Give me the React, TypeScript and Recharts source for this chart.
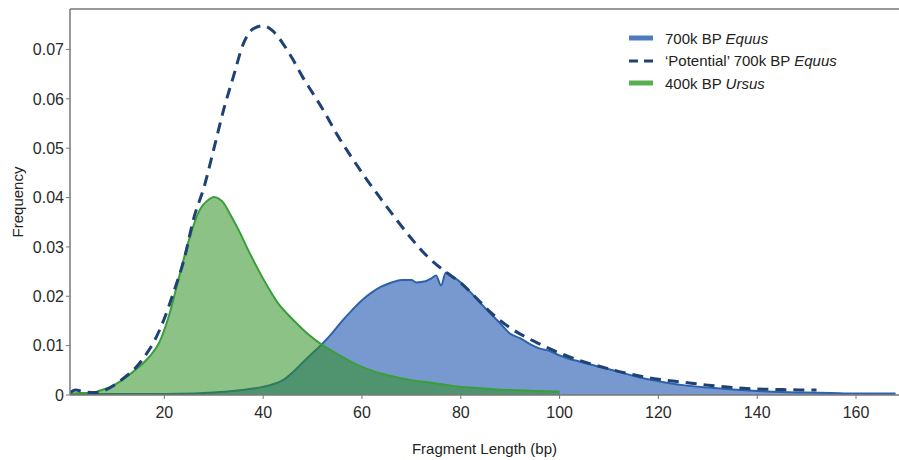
import React from "react"
import {
  ComposedChart,
  Area,
  Line,
  XAxis,
  YAxis,
  ReferenceLine,
  Legend,
} from "recharts"

// 700k BP Equus (observed)
const equusX = [1, 10, 20, 26, 30, 34, 38, 41, 44, 46, 48, 50, 52, 54, 56, 58, 60, 62, 64, 66, 68, 70, 71, 72, 73, 74, 75, 76, 77, 78, 80, 82, 84, 86, 88, 90, 92, 94, 96, 98, 100, 102, 104, 108, 112, 116, 120, 125, 130, 135, 140, 145, 150, 155, 160, 165, 168]
const equusY = [0.0002, 0.0002, 0.0002, 0.0003, 0.0005, 0.0008, 0.0013, 0.0019, 0.003, 0.0046, 0.0066, 0.0085, 0.0104, 0.0126, 0.015, 0.0172, 0.0192, 0.0208, 0.022, 0.0228, 0.0233, 0.0233, 0.0228, 0.0229, 0.0231, 0.0236, 0.0242, 0.0222, 0.0248, 0.0242, 0.0228, 0.0208, 0.0186, 0.0165, 0.0145, 0.0124, 0.0115, 0.0103, 0.0094, 0.0089, 0.008, 0.0073, 0.0068, 0.0057, 0.0047, 0.0036, 0.0028, 0.002, 0.0015, 0.0011, 0.0008, 0.0006, 0.0005, 0.0004, 0.0003, 0.0003, 0.0003]

// 'Potential' 700k BP Equus
const potentialX = [1, 2, 4, 6, 8, 10, 12, 14, 16, 18, 20, 22, 24, 26, 28, 30, 32, 34, 36, 38, 40, 42, 44, 46, 48, 50, 52, 55, 58, 61, 64, 67, 70, 73, 77, 80, 83, 86, 90, 95, 100, 105, 110, 115, 120, 125, 130, 135, 140, 145, 150, 152]
const potentialY = [0.0005, 0.001, 0.0006, 0.0005, 0.001, 0.0021, 0.0036, 0.0053, 0.0078, 0.011, 0.0155, 0.0212, 0.0275, 0.036, 0.042, 0.0498, 0.0578, 0.0646, 0.0712, 0.0742, 0.0748, 0.0737, 0.0712, 0.068, 0.0644, 0.0612, 0.058, 0.0527, 0.048, 0.0436, 0.0395, 0.0355, 0.0317, 0.0283, 0.0249, 0.0227, 0.0198, 0.0168, 0.0136, 0.0108, 0.0085, 0.0067, 0.0053, 0.0041, 0.0032, 0.0026, 0.002, 0.0015, 0.0012, 0.0011, 0.001, 0.001]

// 400k BP Ursus
const ursusX = [1, 3, 5, 7, 9, 11, 13, 15, 17, 19, 21, 23, 25, 27, 29, 30, 31, 32, 33, 35, 37, 39, 41, 43, 45, 47, 49, 52, 55, 58, 61, 64, 67, 70, 74, 78, 82, 86, 90, 95, 100]
const ursusY = [0.0003, 0.0004, 0.0004, 0.0009, 0.0016, 0.0027, 0.0042, 0.0058, 0.0078, 0.0107, 0.0163, 0.024, 0.0315, 0.0372, 0.0396, 0.0401, 0.0398, 0.0389, 0.0372, 0.0335, 0.0293, 0.0254, 0.0218, 0.0186, 0.0163, 0.0143, 0.0124, 0.0101, 0.0083, 0.0066, 0.0053, 0.0043, 0.0036, 0.003, 0.0025, 0.0019, 0.0015, 0.0012, 0.001, 0.0008, 0.0007]

const xTicks = [20, 40, 60, 80, 100, 120, 140, 160]
const yTicks = [0, 0.01, 0.02, 0.03, 0.04, 0.05, 0.06, 0.07]

const legendItems = [
  { label: "700k BP ", italic: "Equus", kind: "equus" },
  { label: "\u2018Potential\u2019 700k BP ", italic: "Equus", kind: "potential" },
  { label: "400k BP ", italic: "Ursus", kind: "ursus" },
]

const Y_MAX = 0.0782
const FONT = "'Liberation Sans', Arial, sans-serif"

type Row = { x: number; equus?: number; potential?: number; ursus?: number }

function buildTable(): Row[] {
  const rows = new Map<number, Row>()
  const put = (xs: number[], ys: number[], key: "equus" | "potential" | "ursus") => {
    xs.forEach((x, i) => {
      const row = rows.get(x) ?? { x }
      row[key] = ys[i]
      rows.set(x, row)
    })
  }
  put(equusX, equusY, "equus")
  put(potentialX, potentialY, "potential")
  put(ursusX, ursusY, "ursus")
  return [...rows.values()].sort((a, b) => a.x - b.x)
}

const data = buildTable()

function Swatch({ kind }: { kind: string }) {
  if (kind === "potential") {
    return (
      <svg width={26} height={8}>
        <line x1={1} y1={4} x2={25} y2={4} stroke="#1f4275" strokeWidth={3} strokeDasharray="9 6" />
      </svg>
    )
  }
  const color = kind === "equus" ? "#4d7dbf" : "#5aae52"
  return (
    <svg width={26} height={8}>
      <line x1={1} y1={4} x2={25} y2={4} stroke={color} strokeWidth={5} />
    </svg>
  )
}

function ChartLegend() {
  return (
    <div style={{ fontFamily: FONT, fontSize: 15, color: "#222" }}>
      {legendItems.map((item) => (
        <div key={item.kind} style={{ display: "flex", alignItems: "center", height: 22.5 }}>
          <Swatch kind={item.kind} />
          <span style={{ marginLeft: 11, whiteSpace: "nowrap" }}>
            {item.label}
            <i>{item.italic}</i>
          </span>
        </div>
      ))}
    </div>
  )
}

export default function App() {
  const tickStyle = { fontFamily: FONT, fontSize: 16, fill: "#2a2a2a" }
  return (
    <div style={{ position: "absolute", left: 0, top: 0, background: "#fff" }}>
      <ComposedChart
        width={899}
        height={460}
        data={data}
        margin={{ top: 9, right: 0, bottom: 0, left: 0 }}
      >
        <XAxis
          dataKey="x"
          type="number"
          domain={[0.9, 168.7]}
          allowDataOverflow
          ticks={xTicks}
          height={65}
          tickSize={4}
          tickMargin={8}
          tick={tickStyle}
          stroke="#777"
          axisLine={{ stroke: "#777", strokeWidth: 1.5 }}
          label={{
            value: "Fragment Length (bp)",
            position: "insideBottom",
            offset: 6,
            style: { fontFamily: FONT, fontSize: 15, fill: "#222" },
          }}
        />
        <YAxis
          type="number"
          domain={[0, Y_MAX]}
          allowDataOverflow
          ticks={yTicks}
          width={70}
          tickSize={4}
          tickMargin={2}
          tick={tickStyle}
          tickFormatter={(v: number) => (v === 0 ? "0" : v.toFixed(2))}
          stroke="#777"
          axisLine={{ stroke: "#777", strokeWidth: 1.5 }}
          label={{
            value: "Frequency",
            angle: -90,
            position: "insideLeft",
            offset: 18,
            style: { textAnchor: "middle", fontFamily: FONT, fontSize: 15, fill: "#222" },
          }}
        />
        <ReferenceLine y={Y_MAX} stroke="#777" strokeWidth={1.5} />
        <Area
          dataKey="equus"
          type="monotone"
          fill="#7899cf"
          fillOpacity={1}
          stroke="#2e62a8"
          strokeWidth={2}
          connectNulls
          isAnimationActive={false}
        />
        <Area
          dataKey="ursus"
          type="monotone"
          fill="#2e9020"
          fillOpacity={0.55}
          stroke="#3a9e3a"
          strokeWidth={2}
          connectNulls
          isAnimationActive={false}
        />
        <Line
          dataKey="potential"
          type="monotone"
          stroke="#1f4275"
          strokeWidth={3}
          strokeDasharray="11 7"
          dot={false}
          connectNulls
          isAnimationActive={false}
        />
        <Legend
          layout="vertical"
          align="center"
          verticalAlign="middle"
          content={() => <ChartLegend />}
          wrapperStyle={{ left: 628, top: 27, width: 260 }}
        />
      </ComposedChart>
    </div>
  )
}
